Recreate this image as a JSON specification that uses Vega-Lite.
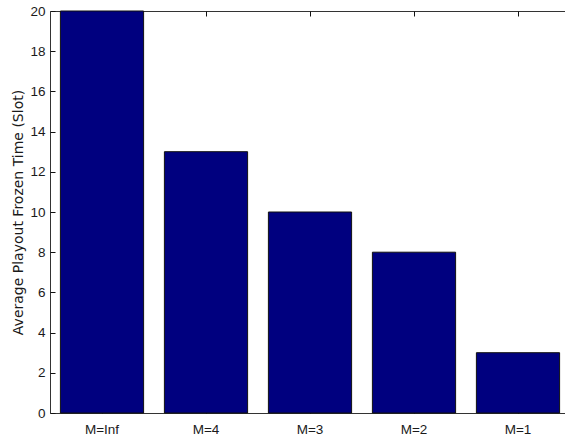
{
  "$schema": "https://vega.github.io/schema/vega-lite/v6.json",
  "width": 520,
  "height": 402,
  "autosize": "none",
  "padding": {"left": 50, "top": 11, "right": 0, "bottom": 24},
  "background": "white",
  "config": {
    "view": {"stroke": "#333333", "strokeWidth": 1},
    "axis": {
      "labelFont": "Liberation Sans",
      "titleFont": "DejaVu Sans",
      "labelFontSize": 13.5,
      "titleFontSize": 14,
      "titleFontWeight": "normal",
      "labelColor": "#1a1a1a",
      "titleColor": "#1a1a1a",
      "tickColor": "#111111",
      "domain": false,
      "grid": false,
      "tickSize": -5,
      "labelPadding": 10
    }
  },
  "data": {
    "values": [
      {"M": "M=Inf", "t": 20},
      {"M": "M=4", "t": 13},
      {"M": "M=3", "t": 10},
      {"M": "M=2", "t": 8},
      {"M": "M=1", "t": 3}
    ]
  },
  "encoding": {
    "x": {
      "field": "M",
      "type": "nominal",
      "sort": null,
      "scale": {"paddingInner": 0.2, "paddingOuter": 0.1}
    },
    "y": {
      "field": "t",
      "type": "quantitative",
      "scale": {"domain": [0, 20], "nice": false, "zero": true}
    }
  },
  "layer": [
    {
      "mark": {"type": "bar", "color": "#00007f", "stroke": "#111111", "strokeWidth": 1},
      "encoding": {
        "x": {"field": "M", "type": "nominal", "sort": null, "axis": {"orient": "bottom", "title": null, "labelAngle": 0, "labelPadding": 14}},
        "y": {"field": "t", "type": "quantitative", "axis": {"orient": "left", "title": "Average Playout Frozen Time (Slot)", "values": [0, 2, 4, 6, 8, 10, 12, 14, 16, 18, 20], "titlePadding": 4}}
      }
    },
    {
      "mark": {"type": "bar", "opacity": 0},
      "encoding": {
        "x": {"field": "M", "type": "nominal", "sort": null, "axis": {"orient": "top", "title": null, "labels": false}},
        "y": {"field": "t", "type": "quantitative", "axis": {"orient": "right", "title": null, "labels": false, "values": [0, 2, 4, 6, 8, 10, 12, 14, 16, 18, 20]}}
      }
    }
  ],
  "resolve": {"axis": {"x": "independent", "y": "independent"}}
}
